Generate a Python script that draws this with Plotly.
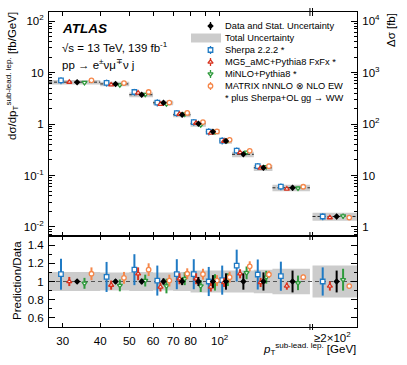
import numpy as np
import plotly.graph_objects as go

# sub-leading lepton pT bins [GeV]; the last one is the overflow bin (>= 200 GeV)
bin_lo = [27, 40, 50, 60, 70, 80, 90, 100, 110, 130, 150]
bin_hi = [40, 50, 60, 70, 80, 90, 100, 110, 130, 150, 200]

# measured dsigma/dpT [fb/GeV] for the regular bins, delta sigma [fb] for overflow
data_xs = [6.5, 6.0, 3.7, 2.58, 1.51, 1.01, 0.71, 0.47, 0.258, 0.141, 0.0577]
data_ovf = 1.6

# relative uncertainties, regular bins + overflow
data_stat = [0.02, 0.025, 0.03, 0.035, 0.04, 0.05, 0.07, 0.09, 0.09, 0.10, 0.12, 0.12]
total_unc = [0.105, 0.10, 0.105, 0.10, 0.105, 0.12, 0.12, 0.12, 0.12, 0.13, 0.14, 0.175]

# prediction / data ratios and their relative uncertainties
ratio_sherpa = [1.08, 1.05, 1.13, 1.01, 1.08, 1.08, 1.0, 1.015, 1.175, 1.077, 1.058, 1.0]
err_sherpa = [0.17, 0.165, 0.17, 0.165, 0.165, 0.165, 0.16, 0.16, 0.175, 0.165, 0.16, 0.155]
ratio_mg5 = [1.0, 0.96, 1.085, 0.94, 1.03, 1.03, 0.94, 0.99, 1.085, 0.99, 0.95, 0.95]
err_mg5 = [0.05, 0.05, 0.07, 0.05, 0.06, 0.06, 0.05, 0.05, 0.05, 0.05, 0.04, 0.05]
ratio_minlo = [0.98, 0.957, 1.01, 0.95, 1.03, 0.95, 0.99, 1.02, 1.095, 1.047, 0.985, 1.02]
err_minlo = [0.06, 0.065, 0.065, 0.08, 0.07, 0.065, 0.09, 0.07, 0.07, 0.07, 0.08, 0.12]
ratio_matrix = [1.085, 1.04, 1.13, 1.01, 1.085, 1.08, 1.01, 1.047, 1.167, 1.077, 1.047, 0.95]
err_matrix = [0.07, 0.065, 0.07, 0.065, 0.06, 0.06, 0.06, 0.06, 0.055, 0.04, 0.03, 0.01]

legend_labels = [
    "Data and Stat. Uncertainty",
    "Total Uncertainty",
    "Sherpa 2.2.2 *",
    "MG5_aMC+Pythia8 FxFx *",
    "MiNLO+Pythia8 *",
    "MATRIX nNNLO ⊗ NLO EW",
    "* plus Sherpa+OL gg → WW",
]

BLUE, RED, GREEN, ORANGE = "#1f7ac4", "#d8321e", "#2e9a3c", "#f5874a"
GREY = "#cccccc"
FONT = "Liberation Sans, Arial, sans-serif"

models = [
    # ratio, error, symbol, colour, horizontal position inside the bin
    (ratio_sherpa, err_sherpa, "square", BLUE, 0.2),
    (ratio_mg5, err_mg5, "triangle-up", RED, 0.35),
    (ratio_minlo, err_minlo, "triangle-down", GREEN, 0.65),
    (ratio_matrix, err_matrix, "circle", ORANGE, 0.8),
]
DATA_POS = 0.5
MK_SIZE = 4.5

# ---- page geometry (pixels) ----
W, H = 407, 365
L, R, T, B = 49, 50, 12, 38
SPLIT_PX = 236
X_MIN, X_MAX = 27, 287          # displayed x range
OVF_LO, OVF_HI = 204, 287       # where the overflow bin is drawn
PW, PH = W - L - R, H - T - B
split = (H - B - SPLIT_PX) / PH


def px_x(v):
    return L + (np.log10(v) - np.log10(X_MIN)) / (np.log10(X_MAX) - np.log10(X_MIN)) * PW


def paper_x(px):
    return (px - L) / PW


def paper_y(py):
    return (H - B - py) / PH


lo_all = bin_lo + [OVF_LO]
hi_all = bin_hi + [OVF_HI]
n_reg = len(bin_lo)


def xpos(frac, idx):
    return [lo_all[i] + frac * (hi_all[i] - lo_all[i]) for i in idx]


reg = list(range(n_reg))
ovf = [n_reg]

fig = go.Figure()


def boxes(idx, centre, rel):
    xs, ys = [], []
    for i, c, u in zip(idx, centre, rel):
        lo, hi = lo_all[i], hi_all[i]
        y0, y1 = c * (1 - u), c * (1 + u)
        xs += [lo, hi, hi, lo, lo, None]
        ys += [y0, y0, y1, y1, y0, None]
    return xs, ys


def dashed(idx, centre):
    xs, ys = [], []
    for i, c in zip(idx, centre):
        xs += [lo_all[i], hi_all[i], None]
        ys += [c, c, None]
    return xs, ys


# ---------------- upper panel ----------------
bx, by = boxes(reg, data_xs, total_unc[:n_reg])
fig.add_trace(go.Scatter(x=bx, y=by, mode="lines", fill="toself", fillcolor=GREY,
                         line=dict(width=0), xaxis="x", yaxis="y", hoverinfo="skip"))
bx, by = boxes(ovf, [data_ovf], total_unc[n_reg:])
fig.add_trace(go.Scatter(x=bx, y=by, mode="lines", fill="toself", fillcolor=GREY,
                         line=dict(width=0), xaxis="x", yaxis="y3", hoverinfo="skip"))
dx, dy = dashed(reg, data_xs)
fig.add_trace(go.Scatter(x=dx, y=dy, mode="lines", line=dict(color="#222", width=1, dash="3px,2px"),
                         xaxis="x", yaxis="y", hoverinfo="skip"))
dx, dy = dashed(ovf, [data_ovf])
fig.add_trace(go.Scatter(x=dx, y=dy, mode="lines", line=dict(color="#222", width=1, dash="3px,2px"),
                         xaxis="x", yaxis="y3", hoverinfo="skip"))

for ratio, err, sym, col, frac in models:
    mk = dict(symbol=sym, size=MK_SIZE, color="white", line=dict(color=col, width=1.3))
    yv = [d * r for d, r in zip(data_xs, ratio[:n_reg])]
    ye = [d * e for d, e in zip(data_xs, err[:n_reg])]
    fig.add_trace(go.Scatter(x=xpos(frac, reg), y=yv, mode="markers", marker=mk,
                             error_y=dict(array=ye, color=col, thickness=1.3, width=0),
                             xaxis="x", yaxis="y"))
    fig.add_trace(go.Scatter(x=xpos(frac, ovf), y=[data_ovf * ratio[-1]], mode="markers", marker=mk,
                             error_y=dict(array=[data_ovf * err[-1]], color=col, thickness=1.3, width=0),
                             xaxis="x", yaxis="y3"))

dmk = dict(symbol="diamond", size=5, color="black")
fig.add_trace(go.Scatter(x=xpos(DATA_POS, reg), y=data_xs, mode="markers", marker=dmk,
                         error_y=dict(array=[d * s for d, s in zip(data_xs, data_stat)],
                                      color="black", thickness=1.3, width=0),
                         xaxis="x", yaxis="y"))
fig.add_trace(go.Scatter(x=xpos(DATA_POS, ovf), y=[data_ovf], mode="markers", marker=dmk,
                         error_y=dict(array=[data_ovf * data_stat[-1]], color="black", thickness=1.3, width=0),
                         xaxis="x", yaxis="y3"))

# ---------------- ratio panel ----------------
all_idx = reg + ovf
bx, by = boxes(all_idx, [1.0] * len(all_idx), total_unc)
fig.add_trace(go.Scatter(x=bx, y=by, mode="lines", fill="toself", fillcolor=GREY,
                         line=dict(width=0), xaxis="x2", yaxis="y2", hoverinfo="skip"))
fig.add_trace(go.Scatter(x=[X_MIN, X_MAX], y=[1, 1], mode="lines",
                         line=dict(color="#555", width=1.2, dash="4px,3px"),
                         xaxis="x2", yaxis="y2", hoverinfo="skip"))
for ratio, err, sym, col, frac in models:
    fig.add_trace(go.Scatter(
        x=xpos(frac, all_idx), y=ratio, mode="markers",
        marker=dict(symbol=sym, size=MK_SIZE, color="white", line=dict(color=col, width=1.3)),
        error_y=dict(array=err, color=col, thickness=2, width=0),
        xaxis="x2", yaxis="y2"))
fig.add_trace(go.Scatter(x=xpos(DATA_POS, all_idx), y=[1.0] * len(all_idx), mode="markers",
                         marker=dmk, error_y=dict(array=data_stat, color="black", thickness=2, width=0),
                         xaxis="x2", yaxis="y2"))

# ---------------- legend (drawn on a pixel-unit overlay axis) ----------------
LEG_X, LEG_TEXT_X, LEG_Y0, LEG_DY = 210.5, 222.5, 26, 12
leg_rows = [LEG_Y0 + LEG_DY * i for i in range(len(legend_labels))]
fig.add_trace(go.Scatter(x=[LEG_X], y=[leg_rows[0]], mode="markers", marker=dmk,
                         error_y=dict(array=[4], color="black", thickness=1.3, width=0),
                         xaxis="x4", yaxis="y4"))
for k, (ratio, err, sym, col, frac) in enumerate(models):
    fig.add_trace(go.Scatter(x=[LEG_X], y=[leg_rows[2 + k]], mode="markers",
                             marker=dict(symbol=sym, size=MK_SIZE, color="white",
                                         line=dict(color=col, width=1.3)),
                             error_y=dict(array=[4], color=col, thickness=1.3, width=0),
                             xaxis="x4", yaxis="y4"))

shapes = [dict(type="rect", xref="paper", yref="paper",
               x0=paper_x(191), x1=paper_x(221), y0=paper_y(leg_rows[1] - 4.5), y1=paper_y(leg_rows[1] + 4.5),
               fillcolor=GREY, line=dict(width=0))]

# axis-break marks
for yb, h in [(T, 4), (SPLIT_PX, 4), (H - B, 3)]:
    for xv in (200, OVF_LO):
        xp = paper_x(px_x(xv))
        shapes.append(dict(type="line", xref="paper", yref="paper", x0=xp, x1=xp,
                           y0=paper_y(yb - h), y1=paper_y(yb + h), line=dict(color="black", width=1)))

annotations = []
for txt, yrow in zip(legend_labels, leg_rows):
    annotations.append(dict(text=txt, x=paper_x(LEG_TEXT_X), y=paper_y(yrow), xref="paper", yref="paper",
                            xanchor="left", yanchor="middle", showarrow=False,
                            font=dict(family=FONT, size=9.3, color="black")))

annotations += [
    dict(text="<b><i>ATLAS</i></b>", x=paper_x(60), y=paper_y(28.5), font=dict(family=FONT, size=13.5)),
    dict(text="√s = 13 TeV, 139 fb<sup>-1</sup>", x=paper_x(60), y=paper_y(46.5),
         font=dict(family=FONT, size=11.5)),
    dict(text="pp → e<sup>±</sup>νμ<sup>∓</sup>ν j", x=paper_x(60), y=paper_y(64.5),
         font=dict(family=FONT, size=11.5)),
]
for a in annotations[-3:]:
    a.update(xref="paper", yref="paper", xanchor="left", yanchor="middle", showarrow=False)
    a["font"]["color"] = "black"

title_font = dict(family=FONT, size=11.5, color="black")
annotations += [
    dict(text="dσ/dp<sub>T</sub><sup>sub-lead. lep.</sup> [fb/GeV]", textangle=-90,
         x=paper_x(12), y=paper_y(10), xanchor="center", yanchor="top"),
    dict(text="Δσ [fb]", textangle=-90, x=paper_x(391), y=paper_y(11), xanchor="center", yanchor="top"),
    dict(text="Prediction/Data", textangle=-90, x=paper_x(17), y=paper_y(281),
         xanchor="center", yanchor="middle"),
    dict(text="<i>p</i><sub>T</sub><sup>sub-lead. lep.</sup> [GeV]", x=paper_x(358), y=paper_y(349),
         xanchor="right", yanchor="middle"),
    dict(text="≥2×10<sup>2</sup>", x=paper_x(px_x((OVF_LO + OVF_HI) / 2) - 4), y=paper_y(337),
         xanchor="center", yanchor="middle"),
]
for a in annotations[-5:]:
    a.update(xref="paper", yref="paper", showarrow=False, font=title_font)

tick_font = dict(family=FONT, size=11.5, color="black")
x_ticks = [30, 40, 50, 60, 70, 80, 90, 100]
x_labels = ["30", "40", "50", "60", "70", "80", "", "10<sup>2</sup>"]
xr = [np.log10(X_MIN), np.log10(X_MAX)]
ax_common = dict(showline=True, linecolor="black", linewidth=1, showgrid=False, zeroline=False,
                 ticks="inside", tickcolor="black", tickfont=tick_font)

log_minor = [k * 10.0 ** e for e in range(-3, 5) for k in range(2, 10)]

fig.update_layout(
    width=W, height=H,
    margin=dict(l=L, r=R, t=T, b=B),
    paper_bgcolor="white", plot_bgcolor="white",
    showlegend=False,
    xaxis=dict(ax_common, domain=[0, 1], anchor="y", type="log", range=xr, tickvals=x_ticks,
               ticktext=x_labels, showticklabels=False, ticklen=4, mirror="ticks"),
    xaxis2=dict(ax_common, domain=[0, 1], anchor="y2", type="log", range=xr, tickvals=x_ticks,
                ticktext=x_labels, ticklen=4, mirror="ticks", ticklabelstandoff=3, matches="x"),
    yaxis=dict(ax_common, domain=[split, 1], anchor="x", type="log", range=[-2.175, 2.175],
               tickvals=[0.01, 0.1, 1, 10, 100],
               ticktext=["10<sup>-2</sup>", "10<sup>-1</sup>", "1", "10", "10<sup>2</sup>"],
               ticklen=6, ticklabelstandoff=2,
               minor=dict(tickvals=log_minor, ticks="inside", ticklen=3, tickcolor="black")),
    yaxis3=dict(ax_common, overlaying="y", side="right", anchor="x", type="log", range=[-0.175, 4.175],
                tickvals=[1, 10, 100, 1000, 10000],
                ticktext=["1", "10", "10<sup>2</sup>", "10<sup>3</sup>", "10<sup>4</sup>"],
                ticklen=6, ticklabelstandoff=2,
                minor=dict(tickvals=log_minor, ticks="inside", ticklen=3, tickcolor="black")),
    yaxis2=dict(ax_common, domain=[0, split], anchor="x2", range=[0.5, 1.5],
                tickvals=[0.6, 0.8, 1.0, 1.2, 1.4], ticktext=["0.6", "0.8", "1", "1.2", "1.4"],
                ticklen=6, mirror="ticks", ticklabelstandoff=2,
                minor=dict(tickvals=[0.5, 0.7, 0.9, 1.1, 1.3, 1.5], ticks="inside", ticklen=3,
                           tickcolor="black")),
    xaxis4=dict(overlaying="x", range=[L, W - R], visible=False),
    yaxis4=dict(overlaying="y", range=[SPLIT_PX, T], visible=False),
    shapes=shapes,
    annotations=annotations,
)

# the page's default 8px body margin would shift the whole figure
fig.write_html("out.html", config={"displayModeBar": False},
               post_script="document.body.style.margin='0';")
